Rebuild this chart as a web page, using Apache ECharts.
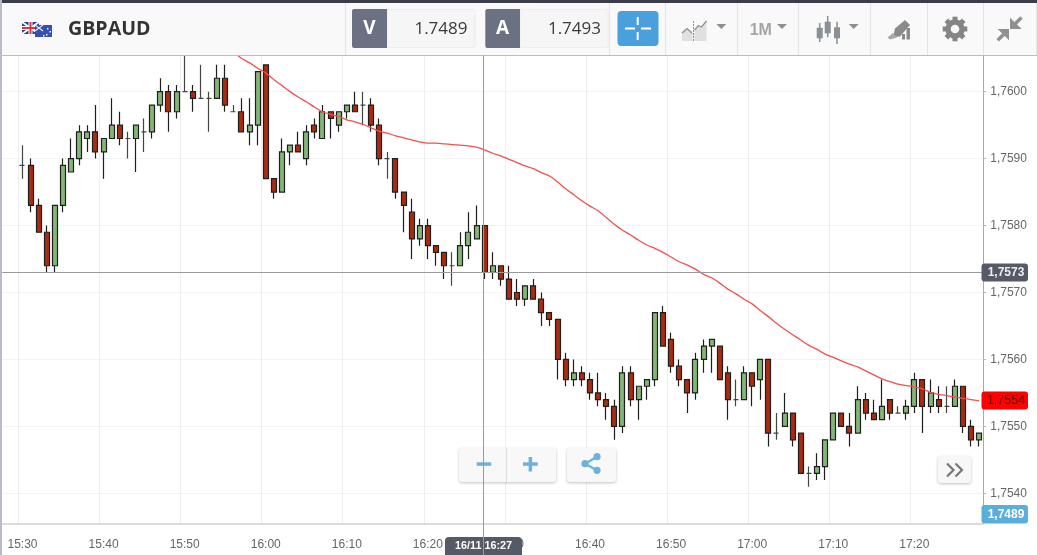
<!DOCTYPE html>
<html><head><meta charset="utf-8">
<style>html,body{margin:0;padding:0;background:#fff}#c{width:1037px;height:555px}</style>
<script src="https://cdn.jsdelivr.net/npm/echarts@6/dist/echarts.min.js"></script>
</head><body><div id="c"></div>
<script>
const times = ["15:28","15:29"];
for (let h = 15, m = 30; !(h === 17 && m === 29);) {
  times.push(h + ":" + String(m).padStart(2, "0"));
  m++; if (m === 60) { m = 0; h++; }
}
const opens = [1.7589,1.7589,1.7583,1.7579,1.7574,1.7583,1.7588,1.7590,1.7593,1.7594,1.7591,1.7593,1.7595,1.7593,1.7593,1.7594,1.7594,1.7598,1.7600,1.7597,
1.7600,1.7600,1.7599,1.7599,1.7599,1.7602,1.7597,1.7597,1.7594,1.7595,1.7604,1.7587,1.7585,1.7591,1.7592,1.7590,1.7595,1.7593,1.7597,1.7595,
1.7597,1.7598,1.7598,1.7598,1.7595,1.7590,1.7590,1.7585,1.7582,1.7578,1.7580,1.7577,1.7576,1.7574,1.7574,1.7577,1.7578,1.7580,1.7573,1.7574,
1.7572,1.7570,1.7569,1.7571,1.7569,1.7567,1.7566,1.7560,1.7557,1.7558,1.7557,1.7555,1.7554,1.7553,1.7550,1.7558,1.7554,1.7556,1.7557,1.7567,
1.7563,1.7559,1.7557,1.7555,1.7560,1.7562,1.7562,1.7558,1.7554,1.7554,1.7558,1.7557,1.7560,1.7549,1.7550,1.7552,1.7549,1.7543,1.7543,1.7544,
1.7548,1.7552,1.7550,1.7549,1.7554,1.7552,1.7551,1.7554,1.7552,1.7552,1.7553,1.7557,1.7553,1.7554,1.7553,1.7553,1.7556,1.7550,1.7548];
const closes = [1.7589,1.7583,1.7579,1.7574,1.7583,1.7589,1.7590,1.7594,1.7594,1.7591,1.7593,1.7595,1.7593,1.7593,1.7595,1.7594,1.7598,1.7600,1.7597,1.7600,
1.7600,1.7599,1.7599,1.7599,1.7602,1.7598,1.7597,1.7594,1.7595,1.7603,1.7587,1.7585,1.7591,1.7592,1.7591,1.7594,1.7594,1.7597,1.7596,1.7597,
1.7598,1.7597,1.7598,1.7595,1.7590,1.7590,1.7585,1.7583,1.7578,1.7580,1.7577,1.7576,1.7574,1.7574,1.7577,1.7579,1.7580,1.7573,1.7574,1.7572,
1.7569,1.7569,1.7571,1.7569,1.7567,1.7566,1.7560,1.7557,1.7558,1.7557,1.7555,1.7554,1.7553,1.7550,1.7558,1.7554,1.7556,1.7557,1.7567,1.7562,
1.7559,1.7557,1.7555,1.7560,1.7562,1.7563,1.7557,1.7554,1.7554,1.7558,1.7556,1.7560,1.7549,1.7549,1.7552,1.7548,1.7543,1.7543,1.7544,1.7548,
1.7552,1.7550,1.7549,1.7554,1.7552,1.7551,1.7553,1.7552,1.7552,1.7553,1.7557,1.7553,1.7555,1.7553,1.7553,1.7556,1.7550,1.7548,1.7549];
const lows = [1.7587,1.7582,1.7579,1.7573,1.7573,1.7582,1.7588,1.7589,1.7591,1.7590,1.7587,1.7593,1.7592,1.7590,1.7588,1.7591,1.7593,1.7597,1.7594,1.7596,
1.7600,1.7597,1.7599,1.7594,1.7599,1.7597,1.7597,1.7594,1.7592,1.7592,1.7587,1.7584,1.7585,1.7589,1.7591,1.7589,1.7593,1.7593,1.7593,1.7594,
1.7596,1.7597,1.7595,1.7594,1.7589,1.7587,1.7584,1.7579,1.7575,1.7577,1.7575,1.7574,1.7572,1.7571,1.7574,1.7575,1.7578,1.7572,1.7572,1.7571,
1.7569,1.7568,1.7568,1.7569,1.7565,1.7565,1.7557,1.7556,1.7556,1.7556,1.7554,1.7553,1.7551,1.7548,1.7549,1.7553,1.7551,1.7554,1.7556,1.7562,
1.7558,1.7556,1.7552,1.7554,1.7558,1.7558,1.7557,1.7551,1.7553,1.7554,1.7553,1.7554,1.7547,1.7548,1.7550,1.7547,1.7543,1.7541,1.7542,1.7542,
1.7548,1.7550,1.7547,1.7549,1.7551,1.7551,1.7551,1.7551,1.7552,1.7551,1.7552,1.7549,1.7552,1.7552,1.7552,1.7553,1.7549,1.7547,1.7547];
const highs = [1.7592,1.7590,1.7584,1.7580,1.7583,1.7590,1.7593,1.7595,1.7595,1.7598,1.7593,1.7599,1.7597,1.7594,1.7595,1.7596,1.7598,1.7602,1.7601,1.7601,
1.7606,1.7601,1.7604,1.7600,1.7604,1.7604,1.7598,1.7599,1.7599,1.7603,1.7604,1.7587,1.7593,1.7592,1.7594,1.7595,1.7596,1.7598,1.7597,1.7597,
1.7598,1.7600,1.7600,1.7599,1.7596,1.7591,1.7590,1.7585,1.7584,1.7581,1.7581,1.7577,1.7576,1.7576,1.7579,1.7582,1.7583,1.7580,1.7576,1.7574,
1.7574,1.7572,1.7571,1.7572,1.7570,1.7567,1.7566,1.7561,1.7560,1.7559,1.7558,1.7558,1.7555,1.7554,1.7559,1.7559,1.7556,1.7557,1.7567,1.7568,
1.7564,1.7560,1.7557,1.7561,1.7563,1.7563,1.7562,1.7559,1.7557,1.7559,1.7558,1.7560,1.7560,1.7552,1.7555,1.7552,1.7549,1.7544,1.7546,1.7548,
1.7552,1.7552,1.7552,1.7556,1.7555,1.7554,1.7557,1.7554,1.7553,1.7554,1.7558,1.7557,1.7557,1.7556,1.7556,1.7557,1.7556,1.7551,1.7549];
const average = [null,null,null,null,null,null,null,null,null,null,null,null,null,null,null,null,null,null,null,null,null,null,null,null,null,null,
1.76059,1.76050,1.76043,1.76035,1.76028,1.76018,1.76009,1.76000,1.75992,1.75985,1.75977,1.75970,1.75966,1.75963,
1.75958,1.75955,1.75951,1.75946,1.75941,1.75938,1.75934,1.75931,1.75928,1.75925,1.75923,1.75923,1.75922,1.75921,1.75920,1.75919,1.75917,1.75913,1.75908,1.75904,
1.75899,1.75894,1.75889,1.75885,1.75879,1.75874,1.75865,1.75855,1.75846,1.75837,1.75829,1.75822,1.75812,1.75802,1.75793,1.75786,1.75778,1.75771,1.75766,1.75760,
1.75753,1.75746,1.75741,1.75735,1.75727,1.75722,1.75714,1.75705,1.75698,1.75690,1.75683,1.75673,1.75664,1.75654,1.75645,1.75637,1.75629,1.75621,1.75615,1.75608,
1.75603,1.75598,1.75593,1.75589,1.75583,1.75577,1.75571,1.75567,1.75563,1.75561,1.75559,1.75556,1.75551,1.75548,1.75546,1.75544,1.75542,1.75540,1.75538];
const yTicks = [1.7540,1.7550,1.7560,1.7570,1.7580,1.7590,1.7600];
const crossPrice = 1.7573;
const bidLabel = "1.7489", askLabel = "1.7493", symbol = "GBPAUD";
const tags = { cross: "1,7573", last: "1,7554", bid: "1,7489", time: "16/11 16:27" };

const UI = '"Open Sans","Noto Sans",sans-serif', AX = '"Liberation Sans",Arial,sans-serif';
const G = [];
const rect = (x,y,w,h,fill,extra={}) => G.push({type:'rect',silent:true,shape:{x,y,width:w,height:h,r:extra.r||0},style:{fill,stroke:extra.stroke,lineWidth:extra.lw||0,shadowBlur:extra.sb||0,shadowColor:extra.sc,shadowOffsetY:extra.so||0},z:extra.z||10});
const line = (x1,y1,x2,y2,stroke,lw=1,z=10,dash) => G.push({type:'line',silent:true,shape:{x1,y1,x2,y2},style:{stroke,lineWidth:lw,lineCap:'butt',lineDash:dash},z});
const text = (x,y,t,fill,font,align='left',z=12) => G.push({type:'text',silent:true,x,y,style:{text:t,fill,font,textAlign:align,textVerticalAlign:'middle'},z});
const poly = (points,fill,z=11) => G.push({type:'polygon',silent:true,shape:{points},style:{fill},z});
const pline = (points,stroke,lw,z=12) => G.push({type:'polyline',silent:true,shape:{points},style:{stroke,lineWidth:lw,fill:null},z});
const caret = (cx,cy,col='#8f8f8f') => poly([[cx-5,cy-2],[cx+5,cy-2],[cx,cy+3]],col);

// frame
rect(0,0,1037,55,'#f9f9f9');
rect(0,0,1037,3,'#3b3e4a',{z:11});
rect(0,0,2,555,'#b9bcc6',{z:11});
line(0,55.5,1037,55.5,'#bdbdbd',1,11);
[345.5,609.5,665.5,737.5,798.5,870.5,927.5,983.5,1036.5].forEach(x=>line(x,3,x,55,'#e4e4e4'));
// flags
rect(22,22,17,12,'#2c3f8f');
line(22,22,39,34,'#fff',2,11);line(39,22,22,34,'#fff',2,11);
line(30.5,22,30.5,34,'#fff',4,11);line(22,28,39,28,'#fff',4,11);
line(30.5,22,30.5,34,'#d8333f',2,11);line(22,28,39,28,'#d8333f',2,11);
rect(35,25,17,12,'#3450b0',{z:12});
line(35,25,43,31,'#e8e8f0',1.2,13);line(43,25,35,31,'#e8e8f0',1.2,13);
[[47,28],[49.5,31],[46,34],[43,35]].forEach(([x,y])=>rect(x,y,1.4,1.4,'#fff',{z:13}));
text(68,29.5,symbol,'#333','bold 19.6px '+UI);
// bid/ask boxes
[[352,387,475,'V',bidLabel,467.5],[485.3,520,608,'A',askLabel,601]].forEach(([a,b,c,l,v,e])=>{
  rect(b,9.5,c-b,38,'#f6f6f6',{stroke:'#ececec',lw:1,r:2});
  rect(a,9,b-a,39,'#6b7083',{r:[2,0,0,2]});
  text((a+b)/2,29,l,'#fff','bold 19px '+UI,'center');
  text(e,29,v,'#3a3a3a','17px '+UI,'right');
});
rect(617.5,11,41,35,'#4a9fdd',{r:4});
line(625,28.5,635,28.5,'#fff',2,12);line(641,28.5,651,28.5,'#fff',2,12);
line(637.7,17,637.7,25,'#fff',2,12);line(637.7,32,637.7,40,'#fff',2,12);
// toolbar icons
poly([[682,33],[687,28.5],[692.5,33],[692.5,41],[682,41]],'#e0e0e0');
poly([[694.5,30],[698.5,25.5],[701.5,27],[706.5,21],[706.5,41],[694.5,41]],'#e0e0e0');
pline([[682,33],[687,28.5],[692,33]],'#8f8f8f',1.3);
pline([[694.5,30],[698.5,25.5],[701.5,27],[706.5,21]],'#8f8f8f',1.3);
line(693.5,21,693.5,41,'#8f8f8f',1,12,[2,1]);
caret(721.3,26);
text(749.7,30.5,'1M','#a5a5a5','bold 16px '+AX);
caret(782,26);
[[819.7,23,42,27.7,38.3],[827.7,16,37.3,21.7,33.3],[837,21.7,44,27.3,38.3]].forEach(([x,a,b,c,d])=>{line(x,a,x,b,'#8a8f96',1.5,12);rect(x-3,c,6,d-c,'#8a8f96',{z:12});});
caret(853.7,26);
poly([[895,28.5],[905,20],[910,25],[900,36.5],[893,37]],'#8a8a8a');
poly([[893,33],[897,37.5],[890,39.5],[887.5,37.5]],'#a8a8a8');
rect(902,34,3,5.5,'#8a8a8a',{z:12});rect(906.5,28,3.5,11.5,'#8a8a8a',{z:12});
// gear
for(let i=0;i<4;i++){G.push({type:'rect',silent:true,x:955,y:29,rotation:i*Math.PI/4,shape:{x:-2.5,y:-12.3,width:5,height:24.6},style:{fill:'#858585'},z:11});}
G.push({type:'circle',silent:true,shape:{cx:955,cy:29,r:9.7},style:{fill:'#858585'},z:11});
G.push({type:'circle',silent:true,shape:{cx:955,cy:29,r:4.3},style:{fill:'#f9f9f9'},z:12});
// compress arrows
poly([[1010,29],[1010,17.7],[1021.7,29]],'#909090');
line(1014,25,1021.5,17.5,'#909090',3.4,11);
poly([[1009,29],[997.7,29],[1009,40.3]],'#909090');
line(1005,33,997.7,40.3,'#909090',3.4,11);
// bottom buttons
const sh = {r:3,sb:3,sc:'rgba(0,0,0,0.25)',so:1,z:9};
rect(459,448,97,34,'#f8f8f8',sh);
line(506.5,448,506.5,482,'#ddd',1,10);
rect(476.7,462.3,14.5,3.5,'#6cb2dc');
rect(523,462.3,14.7,3.5,'#6cb2dc');rect(528.6,457,3.5,14.5,'#6cb2dc');
rect(567,448,49,34,'#f8f8f8',sh);
line(585,463.7,597,456.7,'#6cb2dc',2.2,11);line(585,463.7,597,470.3,'#6cb2dc',2.2,11);
[[585,463.7],[597,456.7],[597,470.3]].forEach(([cx,cy])=>G.push({type:'circle',silent:true,shape:{cx,cy,r:3.6},style:{fill:'#6cb2dc'},z:11}));
rect(938,456,33,27,'#f7f7f7',sh);
pline([[947,463.5],[953.5,470],[947,476.5]],'#777',2.2,11);
pline([[955.5,463.5],[962,470],[955.5,476.5]],'#777',2.2,11);
// tags
const tag=(y,h,fill,t,col,font='bold 12px ')=>{rect(981.5,y,46.5,h,fill,{r:3,z:12});text(1006,y+h/2+.5,t,col,font+AX,'center',13);};
tag(263.5,18,'#555a66',tags.cross,'#eee');
tag(391.5,18,'#ff0000',tags.last,'#5a0f0f','12.5px ');
tag(505,18.5,'#5aaedb',tags.bid,'#fff');
rect(445,537,77,18,'#555a66',{r:[4,4,0,0],z:12});
text(483.5,546,tags.time,'#fff','bold 10.8px '+AX,'center',13);
line(483.5,55.5,483.5,555,'#9a9a9a',1,14);

const ohlc = opens.map((o,i)=>[o,closes[i],lows[i],highs[i]]);
const blank = ['-','-','-','-'];
const tenMin = (i,v)=>Number(v.split(':')[1])%10===0 && i>=2;
const chart = echarts.init(document.getElementById('c'),null,{renderer:'canvas'});
chart.setOption({
  animation:false,backgroundColor:'#fff',
  grid:{left:2.23,width:981,top:55.5,height:468},
  xAxis:{type:'category',data:times,boundaryGap:true,
    axisLine:{lineStyle:{color:'#cfcfcf',width:1.5}},
    axisTick:{alignWithLabel:true,interval:tenMin,length:5,lineStyle:{color:'#aaa'}},
    axisLabel:{interval:tenMin,color:'#666',fontSize:12,fontFamily:'Liberation Sans',margin:15},
    splitLine:{show:true,interval:tenMin,lineStyle:{color:'#eeeeee'}}},
  yAxis:{type:'value',position:'right',min:1.75355,max:1.76054,
    axisLine:{show:true,lineStyle:{color:'#a8a8a8',width:1}},
    axisTick:{show:true,customValues:yTicks,length:3,lineStyle:{color:'#bbb'}},
    axisLabel:{customValues:yTicks,color:'#666',fontSize:12,fontFamily:'Liberation Sans',margin:7,padding:[3,0,0,0],
      formatter:v=>v.toFixed(4).replace('.',',')},
    splitLine:{show:true,lineStyle:{color:'#f3f3f3',width:1.2}}},
  graphic:G,
  series:[
   {type:'candlestick',data:[blank,blank].concat(ohlc),barWidth:5.5,
    itemStyle:{color:'#83b677',color0:'#a82c10',borderColor:'#1e1e1e',borderColor0:'#1e1e1e',borderColorDoji:'#444',borderWidth:1.2}},
   {type:'line',data:[null,null].concat(average),showSymbol:false,smooth:0.3,
    lineStyle:{color:'#f2504e',width:1.3},z:3,
    markLine:{silent:true,symbol:'none',animation:false,precision:4,label:{show:false},
      lineStyle:{color:'#9a9a9a',width:1,type:'solid'},
      data:[{yAxis:crossPrice}]}}
  ]
});
</script></body></html>
